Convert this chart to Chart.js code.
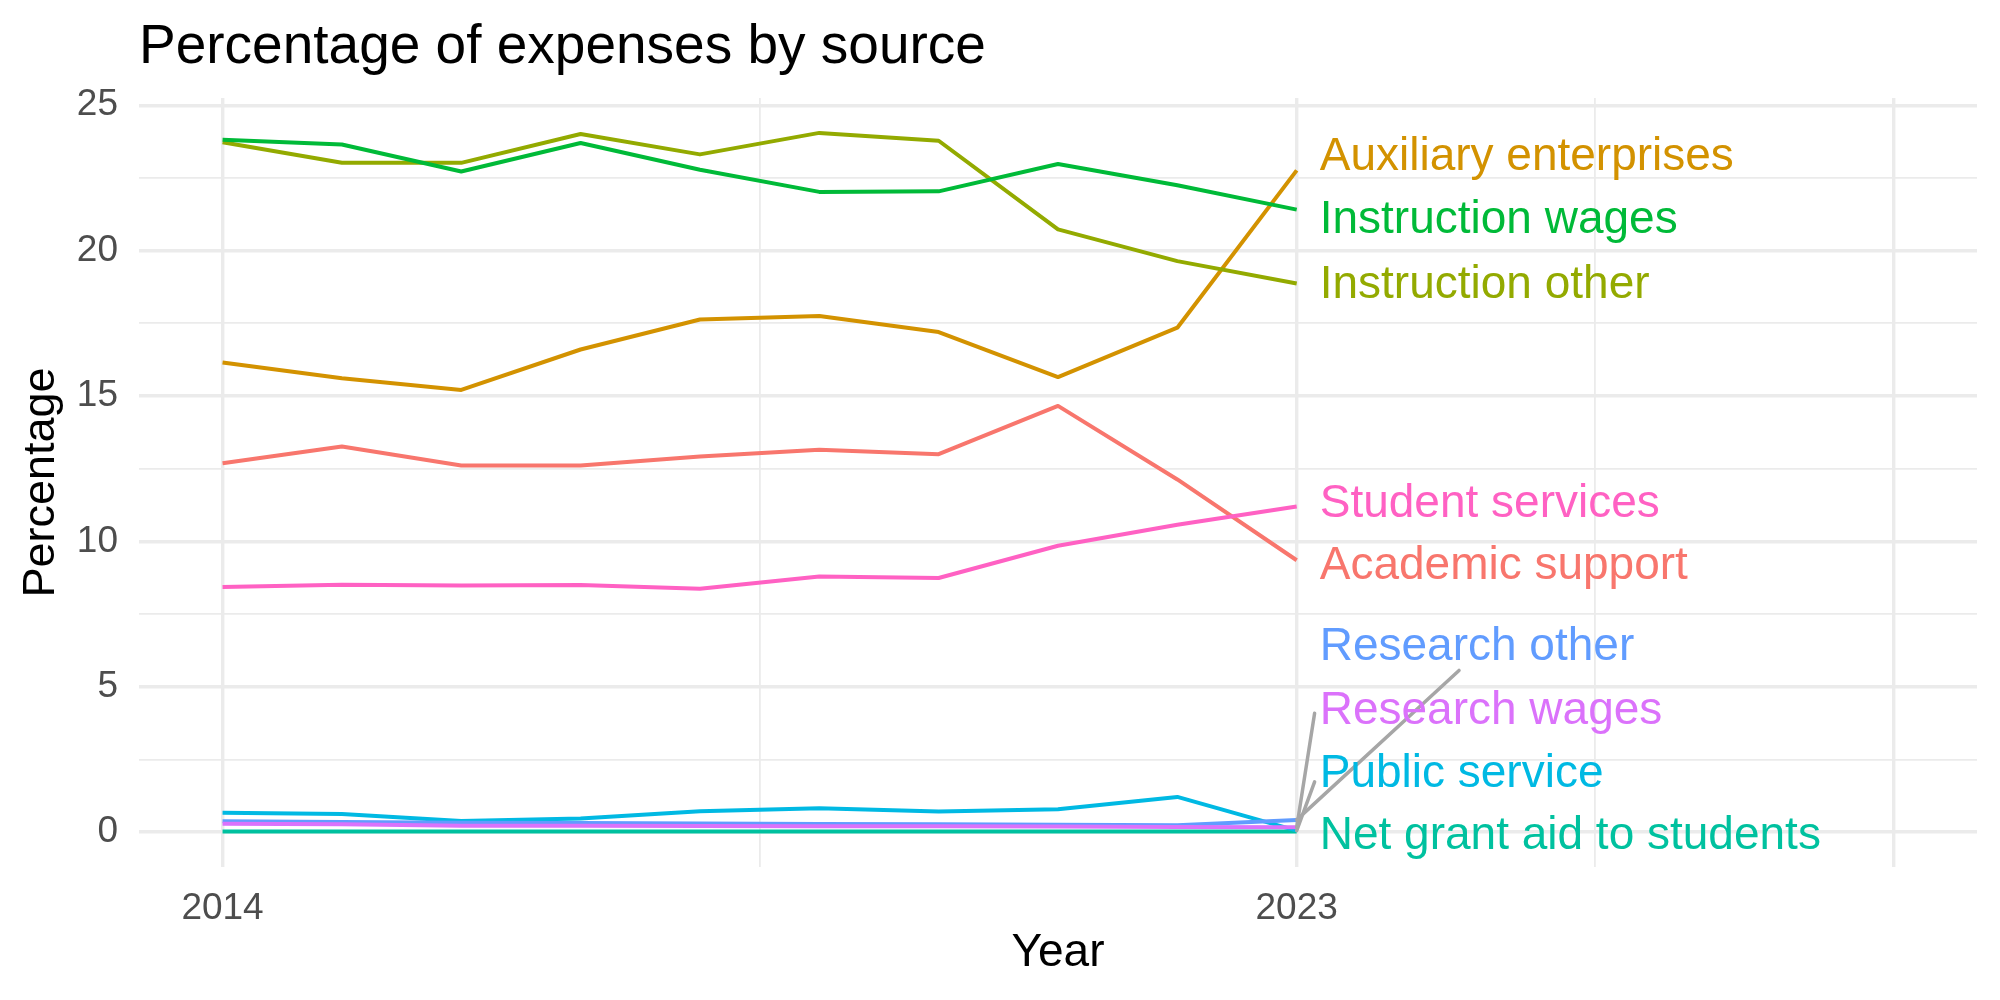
<!DOCTYPE html>
<html>
<head>
<meta charset="utf-8">
<script src="https://cdn.jsdelivr.net/npm/chart.js@4.4.1/dist/chart.umd.min.js"></script>
<style>
  html, body { margin: 0; padding: 0; background: #fff; }
  #wrap { width: 2000px; height: 1000px; }
</style>
</head>
<body>
<div id="wrap"><canvas id="chart" width="2000" height="1000"></canvas></div>
<script>
// data
const years = [2014, 2015, 2016, 2017, 2018, 2019, 2020, 2021, 2022, 2023];

const seriesNames = [
  'Academic support', 'Auxiliary enterprises', 'Instruction other', 'Instruction wages',
  'Net grant aid to students', 'Public service', 'Research other', 'Research wages', 'Student services'
];
const academicSupport      = [12.69, 13.26, 12.61, 12.61, 12.92, 13.15, 13.00, 14.66, 12.13, 9.35];
const auxiliaryEnterprises = [16.15, 15.61, 15.21, 16.60, 17.63, 17.75, 17.20, 15.65, 17.35, 22.76];
const instructionOther     = [23.73, 23.02, 23.02, 24.01, 23.31, 24.05, 23.78, 20.73, 19.64, 18.87];
const instructionWages     = [23.81, 23.65, 22.72, 23.70, 22.78, 22.02, 22.04, 22.98, 22.25, 21.41];
const netGrantAid          = [0.02, 0.02, 0.02, 0.02, 0.02, 0.02, 0.02, 0.02, 0.02, 0.02];
const publicService        = [0.67, 0.62, 0.38, 0.47, 0.72, 0.82, 0.71, 0.79, 1.21, 0.05];
const researchOther        = [0.37, 0.35, 0.32, 0.31, 0.30, 0.28, 0.27, 0.25, 0.24, 0.42];
const researchWages        = [0.29, 0.27, 0.22, 0.22, 0.21, 0.20, 0.20, 0.19, 0.18, 0.17];
const studentServices      = [8.43, 8.51, 8.48, 8.50, 8.37, 8.79, 8.74, 9.85, 10.57, 11.20];

const allSeries = [academicSupport, auxiliaryEnterprises, instructionOther, instructionWages,
  netGrantAid, publicService, researchOther, researchWages, studentServices];

const colors = ['#F8766D', '#D39200', '#93AA00', '#00BA38', '#00C19F', '#00B9E3', '#619CFF', '#DB72FB', '#FF61C3'];

const xTicks = [2014, 2018.5, 2023, 2025.5, 2028];
const xLabels = [2014, 2023];
const yTicks = [0, 2.5, 5, 7.5, 10, 12.5, 15, 17.5, 20, 22.5, 25];

// repelled label spots (data units) and leader segments
const labelY = [9.14, 23.2, 18.8, 21.04, -0.13, 1.99, 6.35, 4.16, 11.29];
const segments = [
  { series: 6, x: 2024.36, y: 5.56 },
  { series: 7, x: 2023.15, y: 4.09 },
  { series: 5, x: 2023.15, y: 1.73 }
];

Chart.defaults.font.family = "'Liberation Sans', Arial, sans-serif";

const datasets = seriesNames.map((name, i) => ({
  label: name,
  data: years.map((yr, j) => ({ x: yr, y: allSeries[i][j] })),
  borderColor: colors[i],
  backgroundColor: colors[i],
  borderWidth: 4,
  pointRadius: 0,
  tension: 0,
  fill: false,
  borderJoinStyle: 'round',
  order: seriesNames.length - i
}));

const textLayer = {
  id: 'textLayer',
  afterDraw(chart) {
    const ctx = chart.ctx;
    const xs = chart.scales.x, ys = chart.scales.y;
    ctx.save();
    // leader segments
    ctx.strokeStyle = '#A6A6A6';
    ctx.lineWidth = 3.5;
    ctx.lineCap = 'round';
    segments.forEach(s => {
      ctx.beginPath();
      ctx.moveTo(xs.getPixelForValue(2023), ys.getPixelForValue(allSeries[s.series][9]));
      ctx.lineTo(xs.getPixelForValue(s.x), ys.getPixelForValue(s.y));
      ctx.stroke();
    });
    // end labels
    ctx.font = "46px 'Liberation Sans', Arial, sans-serif";
    ctx.textAlign = 'left';
    ctx.textBaseline = 'middle';
    seriesNames.forEach((name, i) => {
      ctx.fillStyle = colors[i];
      ctx.fillText(name, xs.getPixelForValue(2023) + 23, ys.getPixelForValue(labelY[i]));
    });
    // title
    ctx.fillStyle = '#000';
    ctx.font = "55px 'Liberation Sans', Arial, sans-serif";
    ctx.textBaseline = 'alphabetic';
    ctx.fillText('Percentage of expenses by source', chart.chartArea.left, 63);
    ctx.restore();
  }
};

new Chart(document.getElementById('chart'), {
  type: 'line',
  data: { datasets: datasets },
  options: {
    responsive: false,
    animation: false,
    layout: { padding: { top: 98, right: 23, left: 0, bottom: 0 } },
    plugins: { legend: { display: false }, tooltip: { enabled: false } },
    scales: {
      x: {
        type: 'linear',
        min: 2013.3,
        max: 2028.7,
        afterBuildTicks: s => { s.ticks = xTicks.map(v => ({ value: v })); },
        afterFit: s => { s.height = 133; },
        border: { display: false },
        grid: {
          color: '#EBEBEB',
          lineWidth: c => (c.tick && Number.isInteger(c.tick.value)) ? 3.4 : 1.8,
          drawTicks: false
        },
        ticks: {
          autoSkip: false,
          maxRotation: 0,
          padding: 20,
          color: '#4D4D4D',
          font: { size: 37 },
          callback: v => xLabels.includes(v) ? String(v) : ''
        },
        title: { display: true, text: 'Year', color: '#000', font: { size: 46 }, padding: { top: 0, bottom: 19 } }
      },
      y: {
        min: -1.2,
        max: 25.25,
        afterBuildTicks: s => { s.ticks = yTicks.map(v => ({ value: v })); },
        afterFit: s => { s.width = 139; },
        border: { display: false },
        grid: {
          color: '#EBEBEB',
          lineWidth: c => (c.tick && c.tick.value % 5 === 0) ? 3.4 : 1.8,
          drawTicks: false
        },
        ticks: {
          padding: 21,
          color: '#4D4D4D',
          font: { size: 37 },
          callback: v => v % 5 === 0 ? String(v) : ''
        },
        title: { display: true, text: 'Percentage', color: '#000', font: { size: 45 }, padding: { top: 15, bottom: 0 } }
      }
    }
  },
  plugins: [textLayer]
});
</script>
</body>
</html>
